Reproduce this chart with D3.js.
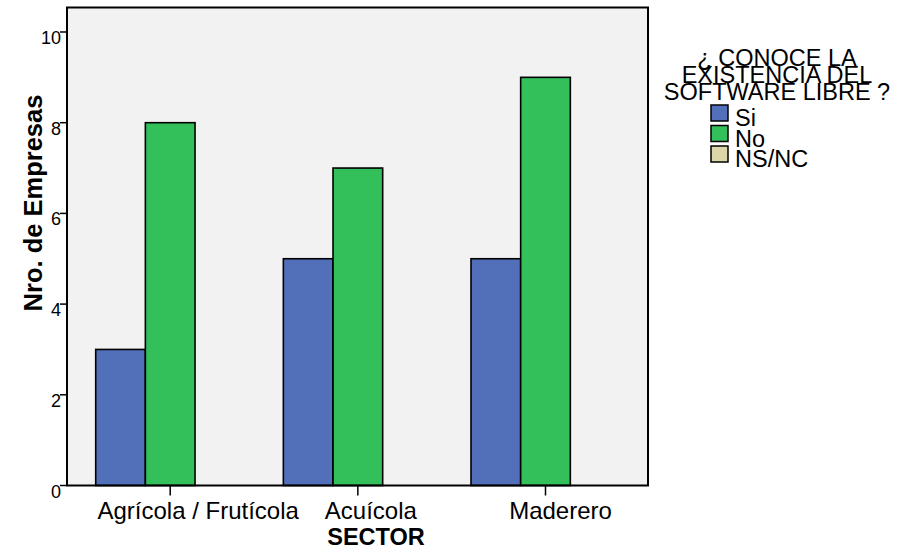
<!DOCTYPE html>
<html>
<head>
<meta charset="utf-8">
<script src="https://cdn.jsdelivr.net/npm/d3@7"></script>
<style>
  body { margin: 0; background: #fff; }
  svg { display: block; font-family: "Liberation Sans", Arial, sans-serif; }
</style>
</head>
<body>
<svg id="chart" width="914" height="549"></svg>
<script>
// ---- data ----
const categories = ["Agrícola / Frutícola", "Acuícola", "Maderero"];
const seriesNames = ["Si", "No", "NS/NC"];
const siValues = [3, 5, 5];
const noValues = [8, 7, 9];
const nsncValues = [0, 0, 0];
const yTicks = [0, 2, 4, 6, 8, 10];
const legendTitle = ["¿ CONOCE LA", "EXISTENCIA DEL", "SOFTWARE LIBRE ?"];
const xTitle = "SECTOR";
const yTitle = "Nro. de Empresas";

// ---- style / layout ----
const colors = ["#5170b9", "#33bf5a", "#dcd6a8"];
const frame = { left: 67, right: 648, top: 7.5, bottom: 485.5 };
const labelDx = [28, 13, 15];

const svg = d3.select("#chart");
const series = [siValues, noValues, nsncValues];

const x0 = d3.scaleBand().domain(categories).range([95.7, 620]).paddingInner(0.206).paddingOuter(0);
const x1 = d3.scaleBand().domain(seriesNames).range([0, x0.bandwidth()]).padding(0);
const y = d3.scaleLinear().domain([0, 10.54]).range([frame.bottom, frame.top]);

// background frame
svg.append("rect")
  .attr("x", frame.left).attr("y", frame.top)
  .attr("width", frame.right - frame.left).attr("height", frame.bottom - frame.top)
  .attr("fill", "#f2f2f2");

// bars
const groups = svg.selectAll("g.cat").data(categories).enter().append("g")
  .attr("class", "cat")
  .attr("transform", d => `translate(${x0(d)},0)`);

groups.selectAll("rect").data((d, i) => seriesNames.map((s, j) => ({ s, j, v: series[j][i] })))
  .enter().append("rect")
  .attr("x", d => x1(d.s))
  .attr("y", d => y(d.v))
  .attr("width", x1.bandwidth())
  .attr("height", d => y(0) - y(d.v))
  .attr("fill", d => colors[d.j])
  .attr("stroke", "#000")
  .attr("stroke-width", 1.6);

// frame border
svg.append("rect")
  .attr("x", frame.left).attr("y", frame.top)
  .attr("width", frame.right - frame.left).attr("height", frame.bottom - frame.top)
  .attr("fill", "none").attr("stroke", "#000").attr("stroke-width", 2);

// y axis ticks
const yAxis = svg.append("g");
yAxis.selectAll("line").data(yTicks).enter().append("line")
  .attr("x1", frame.left - 7).attr("x2", frame.left)
  .attr("y1", d => y(d)).attr("y2", d => y(d))
  .attr("stroke", "#000").attr("stroke-width", 1.5);
yAxis.selectAll("text").data(yTicks).enter().append("text")
  .attr("x", 61).attr("y", d => y(d) + 12)
  .attr("text-anchor", "end")
  .attr("font-size", 18)
  .attr("fill", "#000")
  .text(d => d);

// x axis ticks
const xAxis = svg.append("g");
xAxis.selectAll("line").data(categories).enter().append("line")
  .attr("x1", d => x0(d) + x0.bandwidth() / 2).attr("x2", d => x0(d) + x0.bandwidth() / 2)
  .attr("y1", frame.bottom).attr("y2", frame.bottom + 10)
  .attr("stroke", "#000").attr("stroke-width", 1.5);
xAxis.selectAll("text").data(categories).enter().append("text")
  .attr("x", (d, i) => x0(d) + x0.bandwidth() / 2 + labelDx[i])
  .attr("y", 519)
  .attr("text-anchor", "middle")
  .attr("font-size", 24)
  .attr("fill", "#000")
  .text(d => d);

// axis titles
svg.append("text")
  .attr("x", 376).attr("y", 545)
  .attr("text-anchor", "middle")
  .attr("font-size", 23.5).attr("font-weight", "bold")
  .text(xTitle);

svg.append("text")
  .attr("transform", "translate(42,203) rotate(-90)")
  .attr("text-anchor", "middle")
  .attr("font-size", 25.5).attr("font-weight", "bold")
  .text(yTitle);

// legend
const legend = svg.append("g");
legend.selectAll("text.title").data(legendTitle).enter().append("text")
  .attr("class", "title")
  .attr("x", 777).attr("y", (d, i) => 66 + i * 17)
  .attr("text-anchor", "middle")
  .attr("font-size", 23.5)
  .text(d => d);

const items = legend.selectAll("g.item").data(seriesNames).enter().append("g")
  .attr("class", "item")
  .attr("transform", (d, i) => `translate(711,${105 + i * 20.5})`);
items.append("rect")
  .attr("width", 17).attr("height", 16)
  .attr("fill", (d, i) => colors[i])
  .attr("stroke", "#000").attr("stroke-width", 1.5);
items.append("text")
  .attr("x", 24).attr("y", 21)
  .attr("font-size", 23.5)
  .text(d => d);
</script>
</body>
</html>
